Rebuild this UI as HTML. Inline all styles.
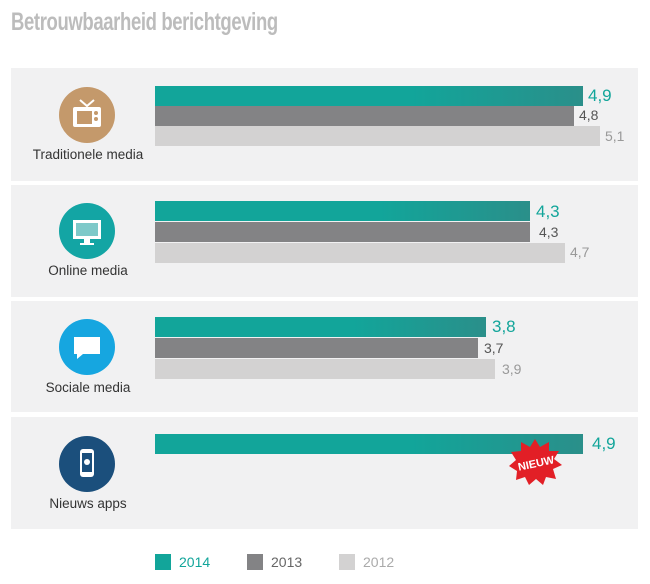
<!DOCTYPE html><html><head><style>
body{margin:0;width:650px;height:584px;background:#fff;font-family:"Liberation Sans",sans-serif;position:relative;overflow:hidden}
.a{position:absolute}
.p{position:absolute;left:11px;width:627px;background:#f1f1f2}
.b{position:absolute;left:155px;height:20px}
.t{background:linear-gradient(90deg,#12a59a 60%,#2a8f8a)}
.g{background:#838385}.l{background:#d3d2d2}
.v{position:absolute;font-size:14px}
.c{position:absolute;width:56px;height:56px;border-radius:50%;left:59px}
.lab{position:absolute;width:160px;left:8px;text-align:center;font-size:13.5px;color:#333}
</style></head><body>
<div class="a" style="left:11px;top:8px;font-family:'Liberation Sans Narrow','Liberation Sans',sans-serif;font-weight:bold;font-size:25px;color:#bcbcbc;transform:scaleX(.74);transform-origin:0 0;letter-spacing:-0.5px">Betrouwbaarheid berichtgeving</div>

<div class="p" style="top:68px;height:113px"></div>
<div class="p" style="top:185px;height:112px"></div>
<div class="p" style="top:301px;height:111px"></div>
<div class="p" style="top:417px;height:112px"></div>

<div class="c" style="top:87px;background:#c4996b"></div>
<svg class="a" style="left:69px;top:97px" width="36" height="36"><path d="M11 3l7 6 7-6" stroke="#fff" stroke-width="2" fill="none"/><rect x="4" y="10" width="28" height="20" rx="2" fill="#fff"/><rect x="8" y="14" width="15" height="13" fill="#c4996b"/><circle cx="27" cy="16" r="2" fill="#c4996b"/><circle cx="27" cy="22" r="2" fill="#c4996b"/></svg>
<div class="lab" style="top:147px">Traditionele media</div>

<div class="c" style="top:203px;background:#13a5a4"></div>
<svg class="a" style="left:69px;top:213px" width="36" height="36"><rect x="4" y="7" width="28" height="19" fill="#fff"/><rect x="7" y="10" width="22" height="13" fill="#7ec9c9"/><rect x="15" y="26" width="6" height="4" fill="#fff"/><rect x="11" y="30" width="14" height="2" fill="#fff"/></svg>
<div class="lab" style="top:263px">Online media</div>

<div class="c" style="top:319px;background:#16a6e0"></div>
<svg class="a" style="left:69px;top:329px" width="36" height="36"><path d="M5 8h26v17H14l-6 5v-5H5z" fill="#fff"/></svg>
<div class="lab" style="top:380px">Sociale media</div>

<div class="c" style="top:436px;background:#1b4f7c"></div>
<svg class="a" style="left:69px;top:446px" width="36" height="36"><rect x="11" y="3" width="14" height="28" rx="3" fill="#fff"/><rect x="13" y="7" width="10" height="19" fill="#1b4f7c"/><circle cx="18" cy="16" r="3" fill="#fff"/></svg>
<div class="lab" style="top:496px">Nieuws apps</div>

<div class="b t" style="top:86px;width:428px"></div><div class="v" style="left:588px;top:86px;color:#12a59a;font-size:17px">4,9</div>
<div class="b g" style="top:106px;width:419px"></div><div class="v" style="left:579px;top:107px;color:#555">4,8</div>
<div class="b l" style="top:126px;width:445px"></div><div class="v" style="left:605px;top:128px;color:#999">5,1</div>

<div class="b t" style="top:201px;width:375px"></div><div class="v" style="left:536px;top:202px;color:#12a59a;font-size:17px">4,3</div>
<div class="b g" style="top:222px;width:375px"></div><div class="v" style="left:539px;top:224px;color:#555">4,3</div>
<div class="b l" style="top:243px;width:410px"></div><div class="v" style="left:570px;top:244px;color:#999">4,7</div>

<div class="b t" style="top:317px;width:331px"></div><div class="v" style="left:492px;top:317px;color:#12a59a;font-size:17px">3,8</div>
<div class="b g" style="top:338px;width:323px"></div><div class="v" style="left:484px;top:340px;color:#555">3,7</div>
<div class="b l" style="top:359px;width:340px"></div><div class="v" style="left:502px;top:361px;color:#999">3,9</div>

<div class="b t" style="top:434px;width:428px"></div><div class="v" style="left:592px;top:434px;color:#12a59a;font-size:17px">4,9</div>
<svg class="a" style="left:505px;top:437px" width="60" height="50"><polygon points="30,2 35,10 44,5 44,14 54,14 49,22 57,28 48,32 51,42 41,40 38,48 31,42 24,48 20,40 11,43 12,34 4,29 11,23 6,15 16,14 16,5 25,10" fill="#e21f26"/><text x="31" y="30" text-anchor="middle" font-family="Liberation Sans Narrow,Liberation Sans,sans-serif" font-weight="bold" font-size="11" fill="#fff" transform="rotate(-12 31 26)">NIEUW</text></svg>

<div class="a" style="left:155px;top:554px;width:16px;height:16px;background:#12a59a"></div><div class="a" style="left:179px;top:554px;font-size:14px;color:#12a59a">2014</div>
<div class="a" style="left:247px;top:554px;width:16px;height:16px;background:#838385"></div><div class="a" style="left:271px;top:554px;font-size:14px;color:#666">2013</div>
<div class="a" style="left:339px;top:554px;width:16px;height:16px;background:#d3d2d2"></div><div class="a" style="left:363px;top:554px;font-size:14px;color:#aaa">2012</div>
</body></html>
